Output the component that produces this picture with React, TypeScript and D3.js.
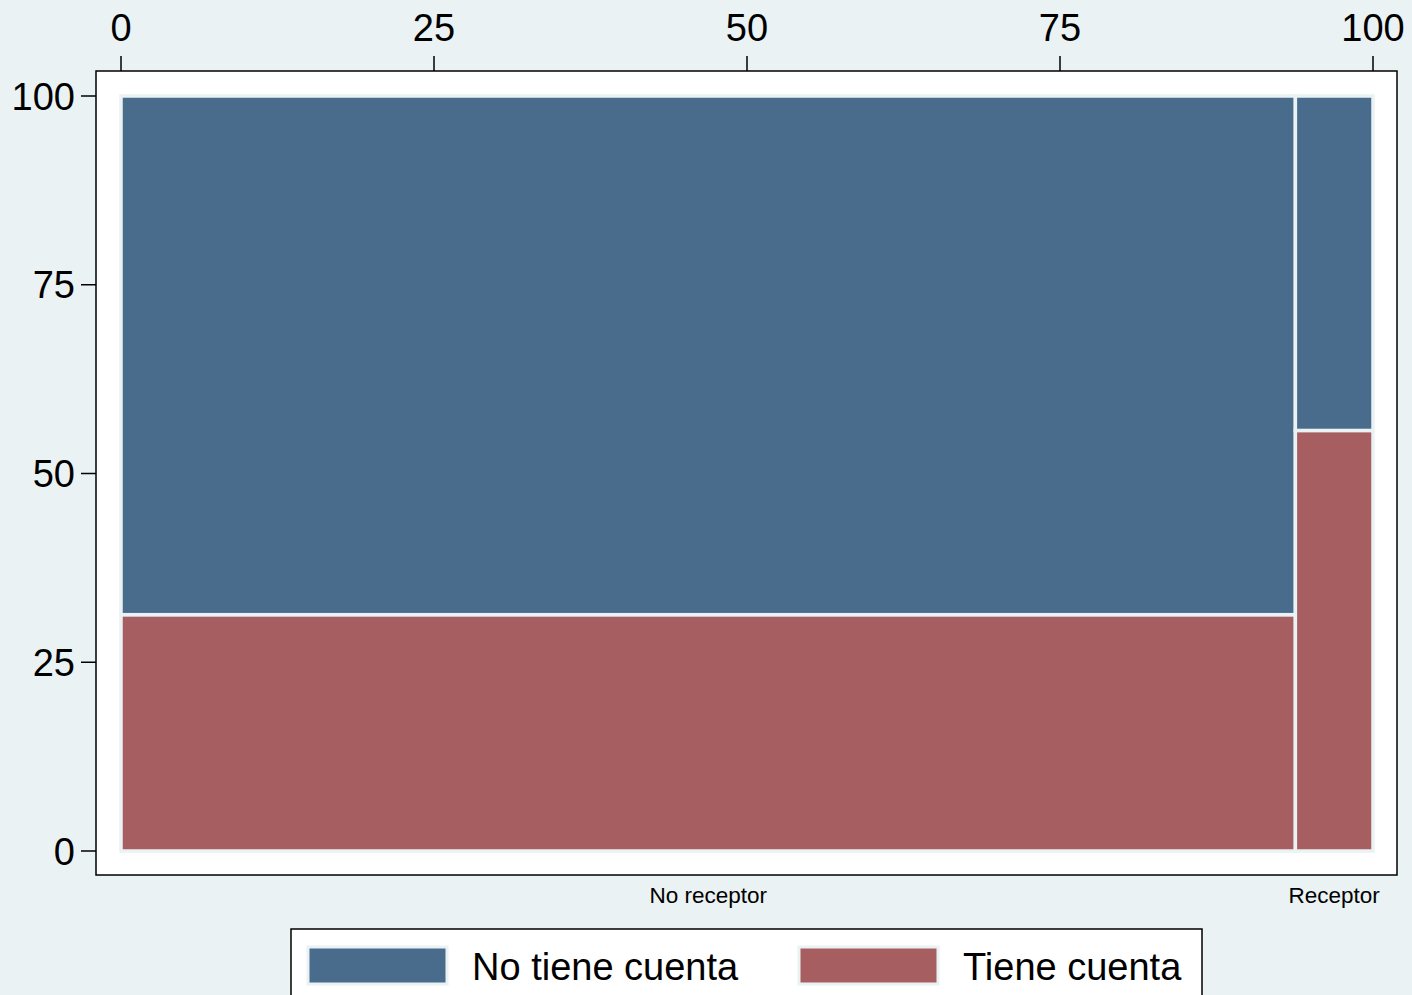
import React from "react";
import * as d3 from "d3";

const groups = ["No receptor", "Receptor"];
const groupShare = [93.8, 6.2];
const series = ["Tiene cuenta", "No tiene cuenta"];
const tieneShare = [31.3, 55.7];
const colors = { "No tiene cuenta": "#496b8c", "Tiene cuenta": "#a65e61" };
const ticks = [0, 25, 50, 75, 100];
const legendItems = ["No tiene cuenta", "Tiene cuenta"];

export default function App() {
  const W = 1412, H = 995;
  const x = d3.scaleLinear().domain([0, 100]).range([121, 1373]);
  const y = d3.scaleLinear().domain([0, 100]).range([851, 96]);
  const bg = "#eaf2f3";
  const font = "'Liberation Sans', Arial, sans-serif";

  let cum = 0;
  const cells: any[] = [];
  const labels: any[] = [];
  groups.forEach((g, i) => {
    const x0 = cum, x1 = cum + groupShare[i];
    cum = x1;
    const t = tieneShare[i];
    cells.push({ key: g + "t", x0, x1, y0: 0, y1: t, c: colors["Tiene cuenta"] });
    cells.push({ key: g + "n", x0, x1, y0: t, y1: 100, c: colors["No tiene cuenta"] });
    labels.push({ g, xm: (x0 + x1) / 2 });
  });

  return (
    <svg width={W} height={H} style={{ position: "absolute", left: 0, top: 0, display: "block" }} fontFamily={font}>
      <rect x={0} y={0} width={W} height={H} fill={bg} />
      <rect x={96} y={71} width={1301} height={804} fill="#ffffff" stroke="#000" strokeWidth={1.5} />
      {cells.map((c) => (
        <rect
          key={c.key}
          x={x(c.x0)}
          y={y(c.y1)}
          width={x(c.x1) - x(c.x0)}
          height={y(c.y0) - y(c.y1)}
          fill={c.c}
          stroke={bg}
          strokeWidth={3.5}
        />
      ))}
      {ticks.map((t) => (
        <g key={"tx" + t}>
          <line x1={x(t)} x2={x(t)} y1={56} y2={71} stroke="#000" strokeWidth={1.5} />
          <text x={x(t)} y={41} textAnchor="middle" fontSize={38} fill="#000">{t}</text>
        </g>
      ))}
      {ticks.map((t) => (
        <g key={"ty" + t}>
          <line x1={81} x2={96} y1={y(t)} y2={y(t)} stroke="#000" strokeWidth={1.5} />
          <text x={75} y={y(t)} dy="0.36em" textAnchor="end" fontSize={38} fill="#000">{t}</text>
        </g>
      ))}
      {labels.map((l) => (
        <text key={l.g} x={x(l.xm)} y={903} textAnchor="middle" fontSize={22.5} fill="#000">{l.g}</text>
      ))}
      <rect x={291} y={929} width={911} height={80} fill="#ffffff" stroke="#000" strokeWidth={1.5} />
      {legendItems.map((s, i) => {
        const sx = i === 0 ? 308 : 799;
        const tx = i === 0 ? 472 : 963;
        return (
          <g key={s}>
            <rect x={sx} y={947} width={139} height={37} fill={(colors as any)[s]} stroke={bg} strokeWidth={3} />
            <text x={tx} y={980} fontSize={38} fill="#000">{s}</text>
          </g>
        );
      })}
    </svg>
  );
}
